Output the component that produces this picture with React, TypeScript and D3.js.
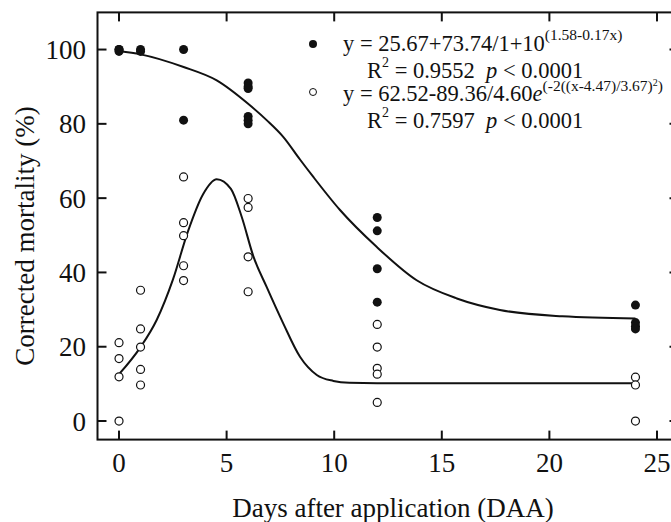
import * as d3 from "d3";

// Observed corrected mortality (%) by day after application
const filledDays = [0, 0, 0, 1, 1, 3, 3, 6, 6, 6, 6, 6, 6, 12, 12, 12, 12, 24, 24, 24, 24];
const filledValues = [100, 100, 99.5, 100, 99.5, 100, 81, 91, 90, 89.5, 82, 81, 80, 54.8, 51.2, 41, 32, 31.2, 26.5, 25.5, 24.8];

const openDays = [0, 0, 0, 0, 1, 1, 1, 1, 1, 3, 3, 3, 3, 3, 6, 6, 6, 6, 12, 12, 12, 12, 12, 24, 24, 24];
const openValues = [21.1, 16.8, 11.9, 0, 35.2, 24.8, 19.9, 13.9, 9.7, 65.7, 53.4, 49.9, 41.8, 37.8, 59.9, 57.5, 44.2, 34.8, 26, 19.9, 14.2, 12.6, 5, 11.8, 9.7, 0];

// Fitted curves
const filledFitX = [0, 1, 3, 4.54, 6, 6.86, 7.63, 8.41, 9.03, 10.27, 11.97, 13.83, 15.7, 17.7, 20.6, 24];
const filledFitY = [99.6, 98.7, 95.3, 91.7, 85.4, 81, 76.5, 70.4, 65.7, 56.8, 46.9, 37.9, 33, 29.9, 28.2, 27.6];

const openFitX = [0, 1, 1.75, 2.5, 3.2, 3.9, 4.54, 5.2, 5.7, 6.24, 6.86, 7.63, 8.41, 9.19, 9.96, 10.7, 12, 24];
const openFitY = [12.6, 19.9, 27.2, 38, 51, 61, 65.1, 62.5, 55, 44.4, 36.1, 26.3, 17.3, 12.4, 10.8, 10.3, 10.2, 10.2];

const xTicks = [0, 5, 10, 15, 20, 25];
const yTicks = [0, 20, 40, 60, 80, 100];

const W = 671;
const H = 522;
const FONT = "'Liberation Serif', 'Times New Roman', serif";
const INK = "#111";
const SP2 = "\u00a0\u00a0";

const x = d3.scaleLinear().domain([-1, 26]).range([97.5, 678.5]);
const y = d3.scaleLinear().domain([-5, 110]).range([439.6, 12.4]);

const fitLine = d3
  .line<[number, number]>()
  .x((d) => x(d[0]))
  .y((d) => y(d[1]))
  .curve(d3.curveMonotoneX);

export default function App() {
  const [x0, x1] = x.range();
  const [y0, y1] = y.range();
  const tickLen = 9;

  const filledFit = filledFitX.map((v, i) => [v, filledFitY[i]] as [number, number]);
  const openFit = openFitX.map((v, i) => [v, openFitY[i]] as [number, number]);

  return (
    <svg
      width={W}
      height={H}
      style={{ position: "absolute", left: 0, top: 0, background: "#fff" }}
      fontFamily={FONT}
    >
      {/* frame */}
      <rect x={x0} y={y1} width={x1 - x0} height={y0 - y1} fill="none" stroke={INK} strokeWidth={2} />

      {/* ticks, inward on all sides */}
      {xTicks.map((t) => (
        <g key={"xt" + t}>
          <line x1={x(t)} x2={x(t)} y1={y0} y2={y0 - tickLen} stroke={INK} strokeWidth={2} />
          <line x1={x(t)} x2={x(t)} y1={y1} y2={y1 + tickLen} stroke={INK} strokeWidth={2} />
          <text x={x(t)} y={472} textAnchor="middle" fontSize={27} fill={INK}>
            {t}
          </text>
        </g>
      ))}
      {yTicks.map((t) => (
        <g key={"yt" + t}>
          <line x1={x0} x2={x0 + tickLen} y1={y(t)} y2={y(t)} stroke={INK} strokeWidth={2} />
          <line x1={x1} x2={x1 - tickLen} y1={y(t)} y2={y(t)} stroke={INK} strokeWidth={2} />
          <text x={86} y={y(t) + 9.5} textAnchor="end" fontSize={27} fill={INK}>
            {t}
          </text>
        </g>
      ))}

      {/* axis titles */}
      <text x={393} y={517} textAnchor="middle" fontSize={27} fill={INK}>
        Days after application (DAA)
      </text>
      <text
        transform="translate(34,236) rotate(-90)"
        textAnchor="middle"
        fontSize={27}
        fill={INK}
      >
        Corrected mortality (%)
      </text>

      {/* fitted curves */}
      <path d={fitLine(filledFit) ?? ""} fill="none" stroke={INK} strokeWidth={2} />
      <path d={fitLine(openFit) ?? ""} fill="none" stroke={INK} strokeWidth={2} />

      {/* observations */}
      {filledDays.map((d, i) => (
        <circle key={"f" + i} cx={x(d)} cy={y(filledValues[i])} r={4.5} fill={INK} />
      ))}
      {openDays.map((d, i) => (
        <circle
          key={"o" + i}
          cx={x(d)}
          cy={y(openValues[i])}
          r={4}
          fill="#fff"
          stroke={INK}
          strokeWidth={1.2}
        />
      ))}

      {/* legend with fitted equations */}
      <g fontSize={22.5} fill={INK}>
        <circle cx={313} cy={44} r={4} fill={INK} />
        <text x={343} y={51}>
          {"y = 25.67+73.74/1+10"}
          <tspan fontSize={15.5} dy={-11}>(1.58-0.17x)</tspan>
        </text>
        <text x={367} y={78}>
          R<tspan fontSize={14} dy={-11}>2</tspan>
          <tspan dy={11}>{" = 0.9552" + SP2}</tspan>
          <tspan fontStyle="italic">p</tspan>
          {" < 0.0001"}
        </text>

        <circle cx={313} cy={92} r={3.5} fill="#fff" stroke={INK} strokeWidth={1} />
        <text x={343} y={101}>
          {"y = 62.52-89.36/4.60"}
          <tspan fontStyle="italic">e</tspan>
          <tspan fontSize={15.5} dy={-10}>(-2((x-4.47)/3.67)</tspan>
          <tspan fontSize={10} dy={-5}>2</tspan>
          <tspan fontSize={15.5} dy={5}>)</tspan>
        </text>
        <text x={367} y={128}>
          R<tspan fontSize={14} dy={-11}>2</tspan>
          <tspan dy={11}>{" = 0.7597" + SP2}</tspan>
          <tspan fontStyle="italic">p</tspan>
          {" < 0.0001"}
        </text>
      </g>
    </svg>
  );
}
